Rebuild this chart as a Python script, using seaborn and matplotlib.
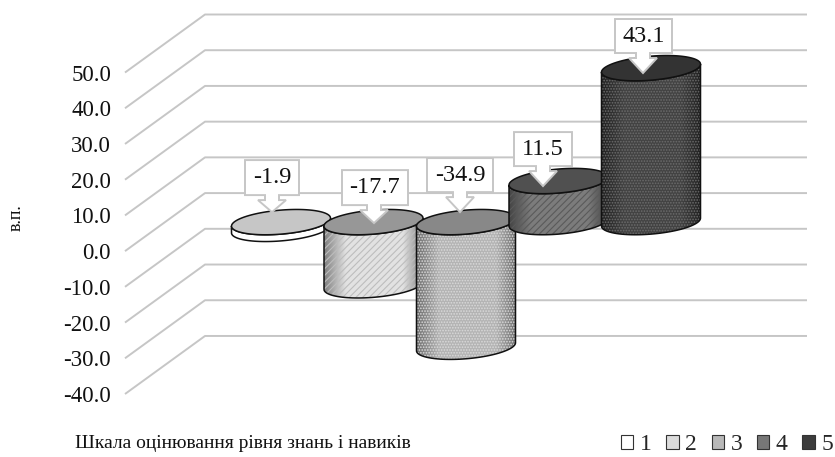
import numpy as np
import pandas as pd
import seaborn as sns
import matplotlib
matplotlib.use("Agg")
import matplotlib.pyplot as plt
from matplotlib.path import Path
from matplotlib.patches import PathPatch, Patch, Polygon
from matplotlib.colors import LinearSegmentedColormap

series = ["1", "2", "3", "4", "5"]
values = [-1.9, -17.7, -34.9, 11.5, 43.1]
value_labels = ["-1.9", "-17.7", "-34.9", "11.5", "43.1"]
y_ticks = [-40, -30, -20, -10, 0, 10, 20, 30, 40, 50]
y_title = "в.п."
x_title = "Шкала оцінювання рівня знань і навиків"

# styles
top_colors = ["#c6c6c6", "#979797", "#888888", "#505050", "#333333"]
side_edge = ["#ffffff", "#808080", "#707070", "#454545", "#222222"]
side_mid = ["#ffffff", "#e2e2e2", "#b4b4b4", "#7c7c7c", "#434343"]
hatches = [None, "/////", "......", "/////", "......"]
hatch_colors = [None, "#bdbdbd", "#dadada", "#5a5a5a", "#6c6c6c"]
legend_faces = ["#ffffff", "#dcdcdc", "#b8b8b8", "#777777", "#3c3c3c"]
# callout placement, pixels
tip_px = [(272, 212), (374, 223), (460, 212), (543, 186), (643, 73)]
box_px = [(245, 299, 160, 195), (342, 408, 170, 205), (427, 493, 158, 192),
          (514, 572, 132, 166), (615, 672, 19, 53)]

W, H = 835, 457
PX_Y = 3.57          # pixels per value unit
PX_X = 92.5          # pixels per series slot
Y0 = 251             # pixel row of value 0 on the front plane
BASE = (Y0 - 222) / PX_Y
BAR_W = 99 / PX_X
DX = 80 / PX_X
DY = 58 / PX_Y
B = 12 / PX_Y
S = 4 / PX_Y

sns.set_theme(style="white")
plt.rcParams["font.family"] = ["Liberation Serif", "DejaVu Serif"]
plt.rcParams["hatch.linewidth"] = 0.8

fig = plt.figure(figsize=(W / 100, H / 100), dpi=100)
ax = fig.add_axes([125 / W, 1 - 394 / H, (807 - 125) / W, (394 - 14) / H])

df = pd.DataFrame({"series": series, "value": values})
sns.barplot(data=df, x="series", y="value", bottom=BASE, width=BAR_W,
            color="white", errorbar=None, ax=ax, zorder=1)

xl = 2 + (125 - 466) / PX_X
xr = 2 + (807 - 466) / PX_X
yl = -40
yh = (Y0 - 14) / PX_Y


def px2d(px, py):
    return 2 + (px - 466) / PX_X, (Y0 - py) / PX_Y


for t in y_ticks:
    ax.plot([xl, xl + DX, xr], [t, t + DY, t + DY], color="#c6c6c6", lw=1.4,
            clip_on=False, zorder=0, solid_capstyle="butt")


def ell(cx, cy, a, t):
    return np.column_stack([cx + a * np.cos(t), cy + B * np.sin(t) + S * np.cos(t)])


bars = list(ax.patches)
for i, bar in enumerate(bars):
    x0, w = bar.get_x(), bar.get_width()
    y1, y2 = sorted([bar.get_y(), bar.get_y() + bar.get_height()])
    bar.set_visible(False)
    cx, a = x0 + w / 2, w / 2
    z = 2 + i * 0.1
    front = np.linspace(np.pi, 2 * np.pi, 60)
    low = ell(cx, y1, a, front)
    up = ell(cx, y2, a, front)[::-1]
    verts = np.vstack([low, up, low[:1]])
    body = Path(verts)
    outline = PathPatch(body, fc="none", ec="#111111", lw=1.1, zorder=z + 0.03)
    clip = PathPatch(body, fc="none", ec="none", zorder=z)
    ax.add_patch(clip)
    cmap = LinearSegmentedColormap.from_list(
        "c", [(0, side_edge[i]), (0.22, side_mid[i]), (0.8, side_mid[i]), (1, side_edge[i])])
    grad = np.linspace(0, 1, 200)[None, :]
    im = ax.imshow(grad, extent=(x0, x0 + w, y1 - 2 * B, y2 + 2 * B), aspect="auto",
                   cmap=cmap, zorder=z, interpolation="bilinear")
    im.set_clip_path(clip)
    if hatches[i]:
        ax.add_patch(PathPatch(body, fc="none", ec=hatch_colors[i], hatch=hatches[i],
                               lw=0, zorder=z + 0.01))
    ax.add_patch(outline)
    circle = ell(cx, y2, a, np.linspace(0, 2 * np.pi, 120))
    ax.add_patch(Polygon(circle, closed=True, fc=top_colors[i], ec="#111111", lw=1.1,
                         zorder=z + 0.05))

for i, lab in enumerate(value_labels):
    tx, ty = tip_px[i]
    l, r, t, b = box_px[i]
    pts = [(l, t), (r, t), (r, b), (tx + 7, b), (tx + 7, b + 5), (tx + 14, b + 5), (tx, ty),
           (tx - 14, b + 5), (tx - 7, b + 5), (tx - 7, b), (l, b)]
    poly = [px2d(*p) for p in pts]
    ax.add_patch(Polygon(poly, closed=True, fc="white", ec="#c6c6c6", lw=1.4, zorder=5,
                         clip_on=False, joinstyle="miter"))
    mx, my = px2d((l + r) / 2, (t + b) / 2)
    ax.text(mx, my, lab, ha="center", va="center", fontsize=17.5, color="#111111",
            zorder=6, clip_on=False)

ax.set_xlim(xl, xr)
ax.set_ylim(yl, yh)
ax.set_yticks(y_ticks)
ax.set_yticklabels([f"{t:.1f}" for t in y_ticks], fontsize=16.5, color="#111111")
ax.tick_params(axis="y", length=0, pad=10)
ax.set_xticks([])
ax.set_xlabel("")
ax.set_ylabel("")
sns.despine(ax=ax, left=True, bottom=True)
ax.patch.set_alpha(0)

fig.text(16 / W, 1 - 218 / H, y_title, rotation=90, ha="center", va="center",
         fontsize=13, color="#111111")
fig.text(75 / W, 1 - 443 / H, x_title, ha="left", va="center", fontsize=14, color="#111111")

handles = [Patch(fc=legend_faces[i], ec="#333333", lw=0.8, label=series[i]) for i in range(5)]
fig.legend(handles=handles, ncols=5, loc="center right", bbox_to_anchor=(833 / W, 1 - 445 / H),
           frameon=False, fontsize=17, handlelength=0.52, handleheight=0.52,
           handletextpad=0.28, columnspacing=0.62, borderpad=0, borderaxespad=0)

fig.savefig("out.png", dpi=100)
